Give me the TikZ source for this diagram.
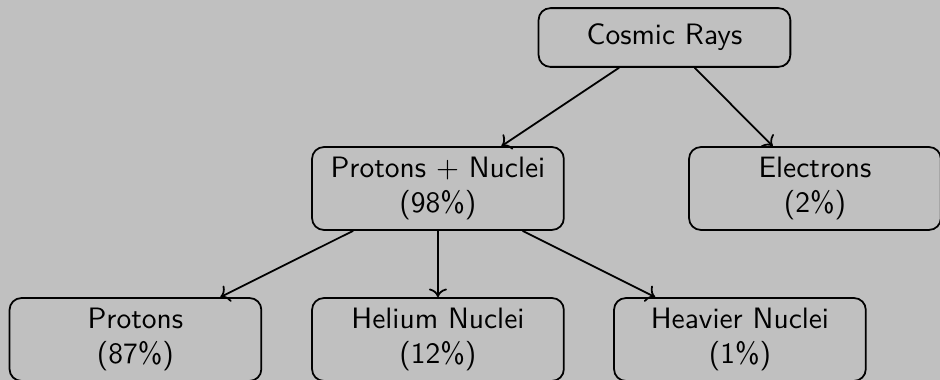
\documentclass[tikz,border=0pt]{standalone}
\usepackage{tikz}
\usetikzlibrary{arrows.meta,positioning}
\definecolor{bggray}{RGB}{192,192,192}

\begin{document}
\begin{tikzpicture}[
  font=\sffamily,
  box/.style={draw=black, semithick, rounded corners=4pt, align=center,
              minimum width=3cm, minimum height=0.7cm, inner sep=3.33pt},
  arr/.style={->, draw=black, semithick}
]
\fill[bggray] (0,0) rectangle (11.2,-4.527);
\useasboundingbox (0,0) rectangle (11.2,-4.527);

\node[box] (cr) at (7.917,-0.447) {Cosmic Rays};
\node[box] (pn) at (5.218,-2.246) {Protons + Nuclei\\(98\%)};
\node[box] (el) at (9.710,-2.246) {Electrons\\(2\%)};
\node[box] (pr) at (1.614,-4.045) {Protons\\(87\%)};
\node[box] (he) at (5.218,-4.045) {Helium Nuclei\\(12\%)};
\node[box] (hv) at (8.816,-4.045) {Heavier Nuclei\\(1\%)};

\draw[arr] (cr) -- (pn);
\draw[arr] (cr) -- (el);
\draw[arr] (pn) -- (pr);
\draw[arr] (pn) -- (he);
\draw[arr] (pn) -- (hv);
\end{tikzpicture}
\end{document}
